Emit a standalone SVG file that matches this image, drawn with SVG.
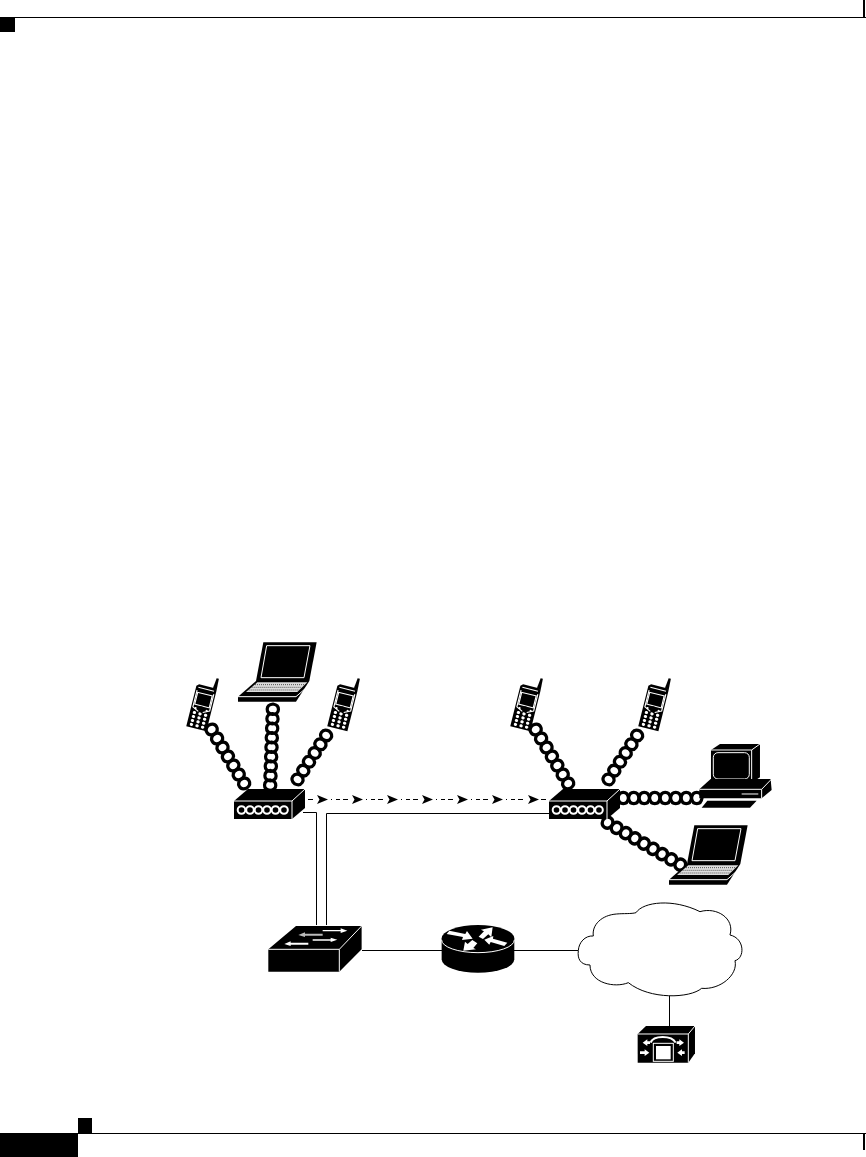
<svg xmlns="http://www.w3.org/2000/svg" width="866" height="1157" viewBox="0 0 866 1157">
<style>
.k{fill:#000}
.w{fill:#fff}
.wl{fill:none;stroke:#fff}
.line{fill:none;stroke:#000;stroke-width:1}
.tw{fill:none;stroke:#000;stroke-width:3.200}
</style>
<defs>
<path id="arrowhead" class="k" d="M-5 -4.500L6 0L-5 4.500L-2.500 0Z"/>
<path id="cell" class="tw" d="M0 0C1 -7.500 9.500 -7.500 10.500 0C9.500 7.500 1 7.500 0 0Z"/>
<g id="phone">
<g transform="translate(201.500 708) rotate(14) scale(1.150 1.020)">
<path class="k" d="M-7 -22L7 -22L9 -20L9 21L-9 21L-9 -20Z"/>
<path class="k" d="M5.500 -22L6.500 -32L8.500 -32L9 -20Z"/>
<path class="wl" stroke-width="1" d="M-7 -19L7 -19M-7.500 -16V1L-2 4M7.500 -16V1L2 4"/>
<rect class="k" x="-6" y="-13" width="12" height="10"/>
<path class="wl" stroke-width="1" d="M-6.500 -14H6.500V-2H-6.500Z"/>
<circle class="w" cx="-5" cy="1.500" r="1"/><circle class="w" cx="5" cy="1.500" r="1"/>
<circle class="k" cx="0" cy="1" r="2.500"/>
<g class="w">
<circle cx="-5" cy="6" r="1.500"/><circle cx="0" cy="6" r="1.500"/><circle cx="5" cy="6" r="1.500"/>
<circle cx="-5" cy="10" r="1.500"/><circle cx="0" cy="10" r="1.500"/><circle cx="5" cy="10" r="1.500"/>
<circle cx="-5" cy="14" r="1.500"/><circle cx="0" cy="14" r="1.500"/><circle cx="5" cy="14" r="1.500"/>
<circle cx="-5" cy="18" r="1.500"/><circle cx="0" cy="18" r="1.500"/><circle cx="5" cy="18" r="1.500"/>
</g>
</g>
</g>
<g id="laptop" transform="translate(170 630) scale(.3333)">
<path class="k" d="M280 37L440 37L418 153L258 153Z"/>
<path class="wl" stroke-width="3" d="M290 47L420 47L402 143L273 143Z"/>
<path class="k" d="M258 153L418 153L378 215L204 215L204 200Z"/>
<path fill="#ddd" d="M262 157L412 157L382 186L228 186Z"/>
<path fill="none" stroke="#000" stroke-width="2" stroke-dasharray="3 3" d="M255 164H403M245 172H395M236 180H388"/>
<path class="wl" stroke-width="3" d="M204 200L378 200L415 168"/>
</g>
<g id="hub">
<path class="k" d="M234 801L248 789L305 789L305 808L292 819L234 819Z"/>
<path class="wl" stroke-width="1" d="M234 801L292 801L305 789M292 801L292 819"/>
<g class="wl" stroke-width="2">
<circle cx="241.500" cy="810" r="3.800"/><circle cx="250" cy="810" r="3.800"/><circle cx="258.500" cy="810" r="3.800"/><circle cx="267" cy="810" r="3.800"/><circle cx="275.500" cy="810" r="3.800"/><circle cx="284" cy="810" r="3.800"/>
</g>
</g>
</defs>
<rect width="866" height="1157" fill="#fff"/>
<g id="page-frame">
<rect class="k" x="0" y="17" width="15" height="15"/>
<rect class="k" x="15" y="17" width="851" height="1"/>
<rect class="k" x="863" y="0" width="2" height="17"/>
<rect class="k" x="0" y="1133" width="78" height="24"/>
<rect class="k" x="78" y="1118" width="14" height="15"/>
<rect class="k" x="78" y="1133" width="788" height="1"/>
<rect class="k" x="863" y="1133" width="2" height="17"/>
</g>
<g id="connectors">
<path class="line" d="M303 812.500H316.500V925M326.500 925V813.500H549"/>
<path class="line" d="M362 950.500H442M514 950.500H578M669.500 996V1027"/>
<g class="line" id="dashes">
<path d="M308 799.500H313M331 799.500H332M336 799.500H340M343 799.500H348"/>
<path d="M366 799.500H367M371 799.500H375M378 799.500H383"/>
<path d="M401 799.500H402M406 799.500H410M413 799.500H418"/>
<path d="M436 799.500H437M441 799.500H445M448 799.500H453"/>
<path d="M471 799.500H472M476 799.500H480M483 799.500H488"/>
<path d="M506 799.500H507M511 799.500H515M518 799.500H523"/>
<path d="M541 799.500H546"/>
</g>
<use href="#arrowhead" x="322" y="799.500"/>
<use href="#arrowhead" x="357" y="799.500"/>
<use href="#arrowhead" x="392" y="799.500"/>
<use href="#arrowhead" x="427" y="799.500"/>
<use href="#arrowhead" x="462" y="799.500"/>
<use href="#arrowhead" x="497" y="799.500"/>
<use href="#arrowhead" x="533" y="799.500"/>
<g id="twisted-pairs">
<g transform="translate(209 725) rotate(59)"><use href="#cell"/><use href="#cell" x="10.500"/><use href="#cell" x="21"/><use href="#cell" x="31.500"/><use href="#cell" x="42"/><use href="#cell" x="52.500"/><use href="#cell" x="63"/></g>
<g transform="translate(273 704) rotate(92)"><use href="#cell"/><use href="#cell" x="9.500"/><use href="#cell" x="19"/><use href="#cell" x="28.500"/><use href="#cell" x="38"/><use href="#cell" x="47.500"/><use href="#cell" x="57"/><use href="#cell" x="66.500"/><use href="#cell" x="76"/></g>
<g transform="translate(329 731) rotate(123)"><use href="#cell"/><use href="#cell" x="10.500"/><use href="#cell" x="21"/><use href="#cell" x="31.500"/><use href="#cell" x="42"/><use href="#cell" x="52.500"/></g>
<g transform="translate(533 725) rotate(59)"><use href="#cell"/><use href="#cell" x="10.500"/><use href="#cell" x="21"/><use href="#cell" x="31.500"/><use href="#cell" x="42"/><use href="#cell" x="52.500"/><use href="#cell" x="63"/></g>
<g transform="translate(640 731) rotate(123)"><use href="#cell"/><use href="#cell" x="10.500"/><use href="#cell" x="21"/><use href="#cell" x="31.500"/><use href="#cell" x="42"/><use href="#cell" x="52.500"/></g>
<g transform="translate(618 798)"><use href="#cell"/><use href="#cell" x="10.500"/><use href="#cell" x="21"/><use href="#cell" x="31.500"/><use href="#cell" x="42"/><use href="#cell" x="52.500"/><use href="#cell" x="63"/><use href="#cell" x="73.500"/></g>
<g transform="translate(603 820) rotate(30)"><use href="#cell"/><use href="#cell" x="10.500"/><use href="#cell" x="21"/><use href="#cell" x="31.500"/><use href="#cell" x="42"/><use href="#cell" x="52.500"/><use href="#cell" x="63"/><use href="#cell" x="73.500"/><use href="#cell" x="84"/></g>
</g>
</g>
<g id="phone-1"><use href="#phone"/></g>
<g id="laptop-1"><use href="#laptop"/></g>
<g id="phone-2"><use href="#phone" x="141"/></g>
<g id="phone-3"><use href="#phone" x="324"/></g>
<g id="phone-4"><use href="#phone" x="452"/></g>
<g id="laptop-2"><use href="#laptop" x="431" y="183"/></g>
<g id="hub-1"><use href="#hub"/></g>
<g id="hub-2"><use href="#hub" x="315"/></g>
<g id="workstation" transform="translate(500 670) scale(.3333)">
<path class="k" d="M633 240L660 222L780 222L780 322L755 338L633 338Z"/>
<path class="wl" stroke-width="3" d="M633 240L755 240L780 222M755 240L755 338"/>
<rect class="wl" stroke-width="3" x="640" y="248" width="108" height="79" rx="14"/>
<path class="k" d="M598 358L632 327L812 327L815 360L785 385L598 385Z"/>
<path class="wl" stroke-width="3" d="M598 358L785 358L815 327M785 358L785 385M725 372L775 372"/>
<path class="k" d="M622 392L770 392L750 413L605 413Z"/>
</g>
<g id="switch" transform="translate(250 890) scale(.3333)">
<path class="k" d="M55 178L138 108L335 108L335 178L268 245L55 245Z"/>
<path class="wl" stroke-width="3" d="M55 178L268 178L335 108M268 178L268 245"/>
<g class="w">
<path d="M218 120H272V115L292 122L272 129V124H218Z"/>
<path d="M218 131H165V127L145 135L165 141V137H218Z" fill="#bbb"/>
<path d="M188 148H242V143L262 149L242 156V152H188Z"/>
<path d="M175 158H122V154L103 162L122 168V164H175Z"/>
</g>
</g>
<g id="router" transform="translate(250 890) scale(.3333)">
<path class="k" d="M575 145A109 40 0 0 1 793 145V208A109 40 0 0 1 575 208Z"/>
<path class="wl" stroke-width="3" d="M575 150A109 38 0 0 0 793 150"/>
<g class="w">
<path d="M590 132L598 122L646 132L651 123L668 146L636 150L639 141Z"/>
<path d="M686 140L702 124L693 119L728 112L724 142L715 133L699 147Z"/>
<path d="M772 158L763 168L722 156L718 164L703 149L730 138L729 146Z"/>
<path d="M682 160L670 174L678 178L640 182L645 155L653 162L667 150Z"/>
</g>
</g>
<g id="cloud" transform="translate(560 890) scale(.3333)">
<path fill="#fff" stroke="#000" stroke-width="3" d="M55 182C56 158 75 136 100 138C95 105 125 75 170 72C190 70 215 72 228 68C250 35 340 25 420 65C470 50 525 85 510 135C555 145 555 205 525 212C535 255 480 300 425 295C390 325 270 330 205 278C165 295 90 280 90 225C60 225 52 205 55 182Z"/>
</g>
<g id="call-manager" transform="translate(560 890) scale(.3333)">
<path class="k" d="M233 432L258 408L405 408L405 490L385 518L233 518Z"/>
<path class="wl" stroke-width="3" d="M233 432L385 432L405 408M385 432L385 518"/>
<rect class="wl" stroke-width="3" x="280" y="460" width="60" height="54"/>
<rect class="w" x="288" y="468" width="44" height="40"/>
<path class="wl" stroke-width="6" d="M272 458C280 435 335 435 347 458"/>
<g class="w">
<path d="M248 458L262 448V454H270V462H262V468Z"/>
<path d="M372 458L358 448V454H350V462H358V468Z"/>
<path d="M268 488L254 478V484H240V492H254V498Z"/>
<path d="M352 488L366 478V484H374V492H366V498Z"/>
</g>
</g>
</svg>
